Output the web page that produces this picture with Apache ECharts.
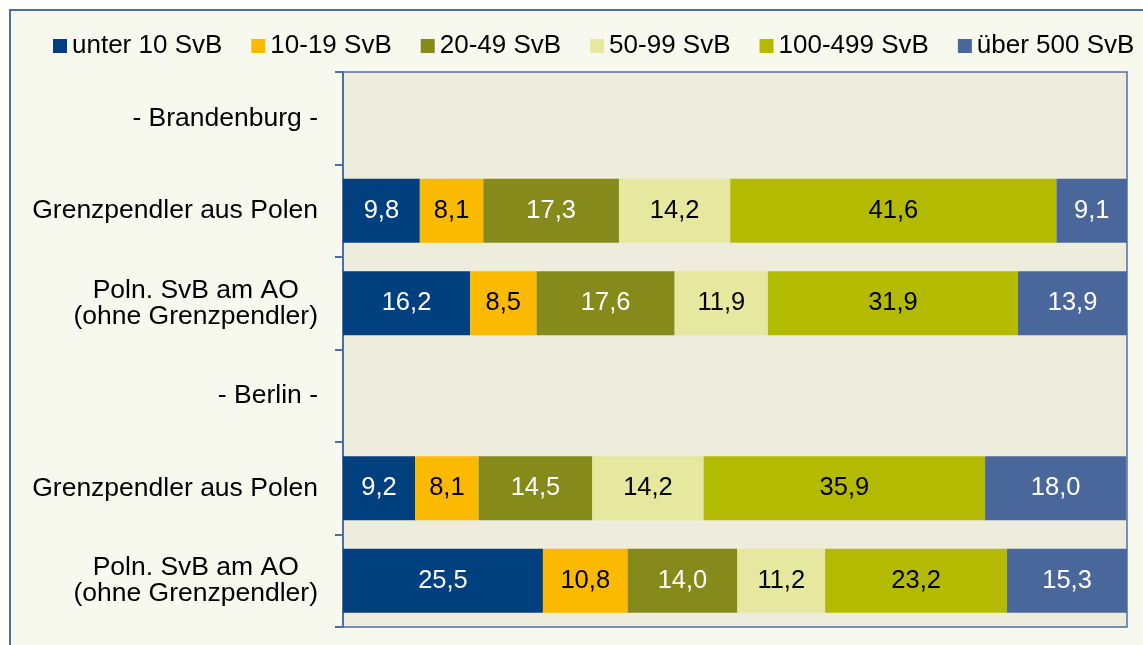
<!DOCTYPE html>
<html>
<head>
<meta charset="utf-8">
<script src="https://cdn.jsdelivr.net/npm/echarts@6/dist/echarts.min.js"></script>
<style>
html,body{margin:0;padding:0;background:#ffffff;overflow:hidden;}
#chart{position:absolute;left:0;top:0;width:1143px;height:645px;}
</style>
</head>
<body>
<div id="chart"></div>
<script>
const categories = [
  '- Brandenburg -',
  'Grenzpendler aus Polen',
  'Poln. SvB am AO\n(ohne Grenzpendler)',
  '- Berlin -',
  'Grenzpendler aus Polen',
  'Poln. SvB am AO\n(ohne Grenzpendler)'
];
const seriesNames = ['unter 10 SvB', '10-19 SvB', '20-49 SvB', '50-99 SvB', '100-499 SvB', 'über 500 SvB'];
const unter10 = [null, 9.8, 16.2, null, 9.2, 25.5];
const s10_19 = [null, 8.1, 8.5, null, 8.1, 10.8];
const s20_49 = [null, 17.3, 17.6, null, 14.5, 14.0];
const s50_99 = [null, 14.2, 11.9, null, 14.2, 11.2];
const s100_499 = [null, 41.6, 31.9, null, 35.9, 23.2];
const ueber500 = [null, 9.1, 13.9, null, 18.0, 15.3];

const values = [unter10, s10_19, s20_49, s50_99, s100_499, ueber500];
const colors = ['#00407F', '#FBBA00', '#868A1A', '#E6E8A0', '#B3BA00', '#4A679C'];
const labelColors = ['#ffffff', '#000000', '#ffffff', '#000000', '#000000', '#ffffff'];
const FONT = 'Liberation Sans, Arial, sans-serif';

const chart = echarts.init(document.getElementById('chart'), null, {renderer: 'canvas'});
const option = {
  backgroundColor: 'transparent',
  animation: false,
  graphic: [{
    type: 'rect', z: -100, silent: true,
    shape: {x: 10, y: 10, width: 1300, height: 800},
    style: {fill: '#F8F9EE', stroke: '#4F6FA3', lineWidth: 2}
  }],
  legend: {
    left: 48, top: 28,
    itemWidth: 14, itemHeight: 14, itemGap: 29,
    icon: 'rect',
    textStyle: {fontFamily: FONT, fontSize: 26, color: '#000'},
    data: seriesNames
  },
  grid: {
    left: 343, top: 72, right: 16, bottom: 18,
    show: true, backgroundColor: '#EEECDD', borderColor: '#4F6FA3', borderWidth: 1.5,
    containLabel: false
  },
  xAxis: {
    type: 'value', min: 0, max: 100,
    axisLine: {show: false}, axisTick: {show: false}, axisLabel: {show: false}, splitLine: {show: false}
  },
  yAxis: {
    type: 'category', inverse: true, data: categories,
    axisLine: {show: true, lineStyle: {color: '#4F6FA3', width: 2}},
    axisTick: {show: true, length: 8, lineStyle: {color: '#4F6FA3', width: 2}},
    axisLabel: {
      fontFamily: FONT, fontSize: 26.5, color: '#000', margin: 25, align: 'right', lineHeight: 26,
      formatter: function (v) {
        return v.split('\n').map(function (l) { return '{c|' + l + '}'; }).join('\n');
      },
      rich: {c: {align: 'center', fontFamily: FONT, fontSize: 26.5, color: '#000', lineHeight: 26}}
    }
  },
  series: values.map(function (arr, i) {
    return {
      name: seriesNames[i], type: 'bar', stack: 'total', barWidth: 64,
      itemStyle: {color: colors[i]},
      label: {
        show: true, position: 'inside', fontFamily: FONT, fontSize: 25.5, color: labelColors[i],
        formatter: function (p) { return p.value == null ? '' : p.value.toFixed(1).replace('.', ','); }
      },
      data: arr
    };
  })
};
chart.setOption(option);
</script>
</body>
</html>
